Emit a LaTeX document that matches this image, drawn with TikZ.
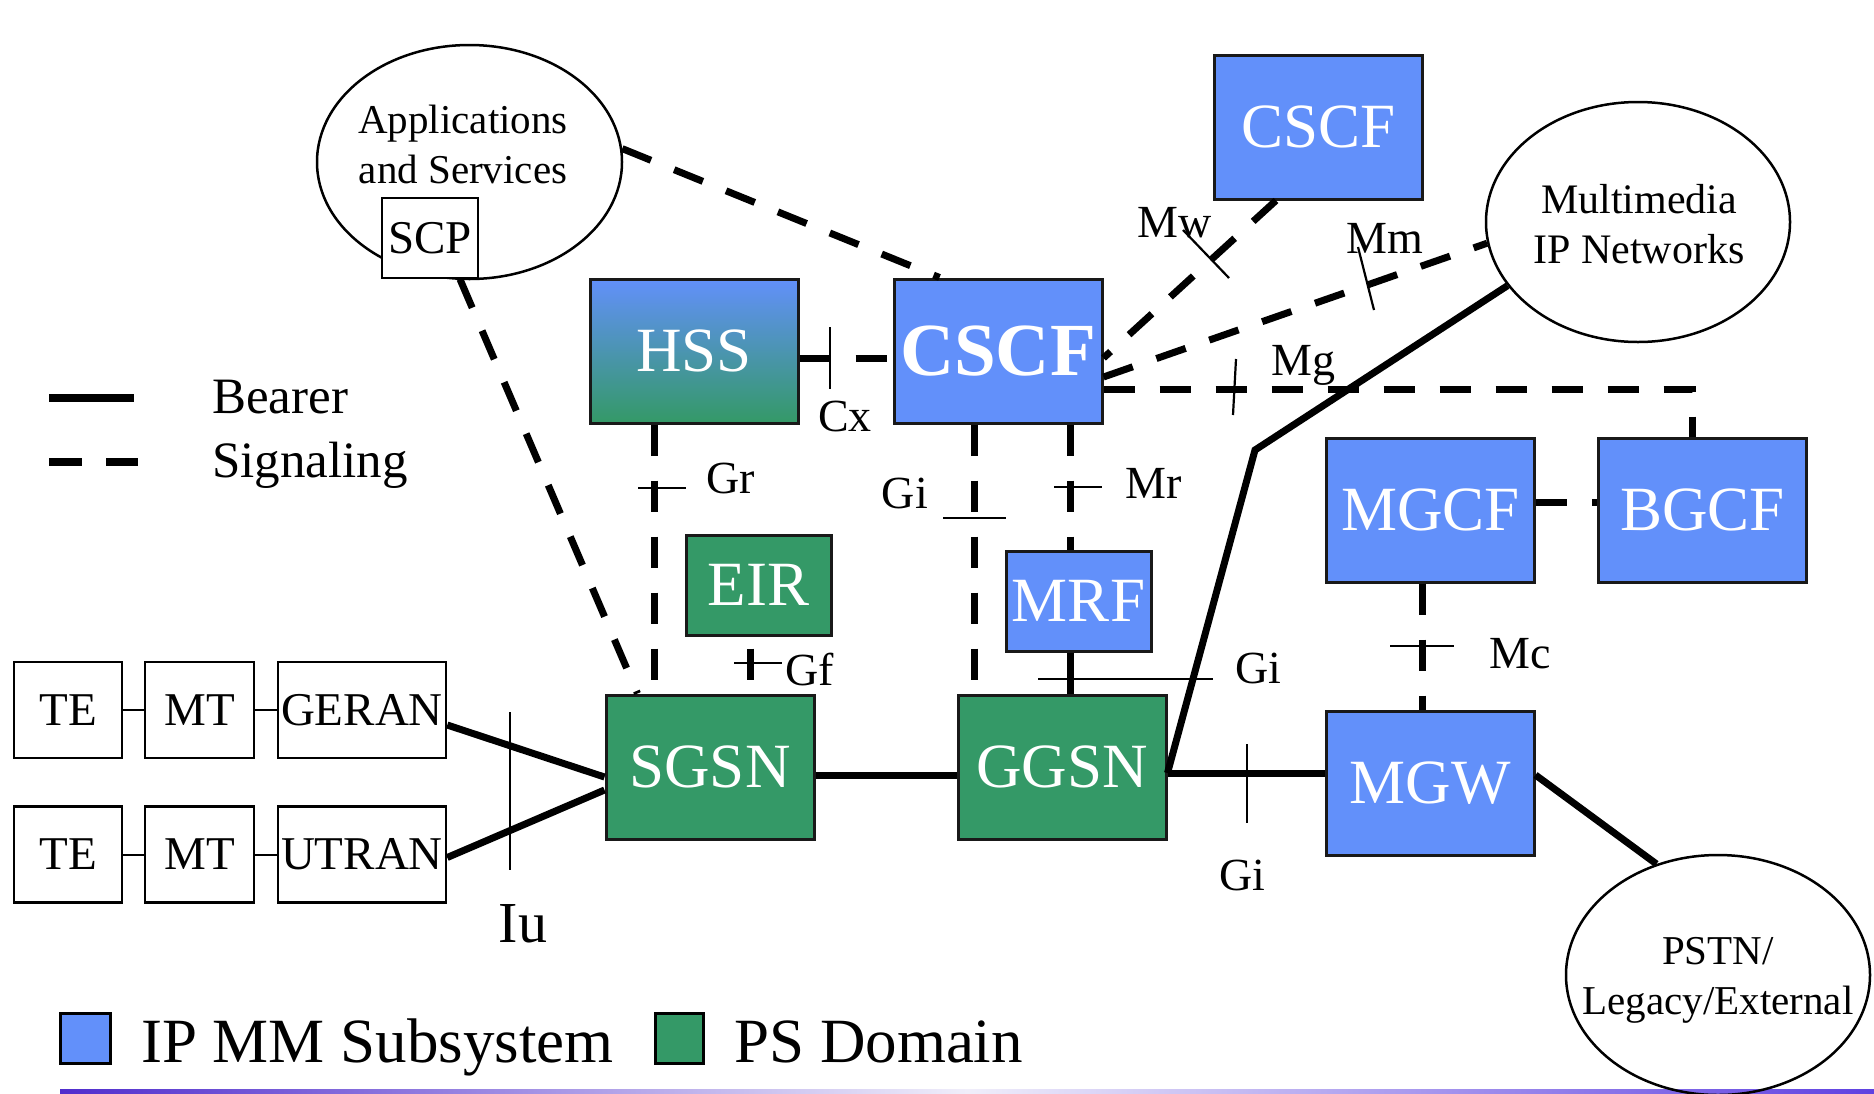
\documentclass[tikz,border=0pt]{standalone}
\usepackage{fontspec}
\setmainfont{Liberation Serif}
\usetikzlibrary{calc,shapes.geometric}
\definecolor{imsblue}{RGB}{98,144,250}
\definecolor{psgreen}{RGB}{52,153,103}
\definecolor{lineL}{RGB}{80,45,205}
\definecolor{lineR}{RGB}{95,65,225}
\definecolor{lineM}{RGB}{240,238,250}
\newcommand\myfs[1]{\fontsize{#1}{#1}\selectfont}
\begin{document}
\begin{tikzpicture}[x=1pt,y=-1pt,
  box/.style={draw=black!90, line width=3pt, inner sep=0pt, text=white, font=\myfs{63}},
  ims/.style={box, fill=imsblue},
  ps/.style={box, fill=psgreen},
  big/.style={minimum width=208pt, minimum height=144pt},
  small/.style={minimum width=145pt, minimum height=100pt},
  wbox/.style={draw, line width=2.5pt, fill=white, inner sep=0pt, font=\myfs{47}, minimum height=96pt},
  cloud/.style={draw, ellipse, line width=2.5pt, inner sep=0pt},
  sig/.style={line width=7pt, dash pattern=on 31pt off 25pt},
  bearer/.style={line width=7pt},
  tick/.style={line width=2.2pt},
  thinlink/.style={line width=2pt},
  lbl/.style={font=\myfs{46}, inner sep=0pt},
  cloudtext/.style={align=center, inner sep=0pt, font=\fontsize{41}{50}\selectfont},
]
\useasboundingbox (0,0) rectangle (1874,1093);

% bottom gradient rule
\shade[left color=lineL, right color=lineR, middle color=lineM] (60,1089) rectangle (1874,1093);

% clouds
\node[cloud, minimum width=305pt, minimum height=234pt] (apps) at (469.5,162) {};
\node[cloudtext] (appstext) at (463,144) {Applications\\and Services};
\node[cloud, minimum width=304pt, minimum height=240pt] (mmnet) at (1638,222) {};
\node[cloudtext, font=\fontsize{42}{50}\selectfont] (mmtext) at (1639,224) {Multimedia\\IP Networks};
\node[cloud, minimum width=304pt, minimum height=240pt] (pstn) at (1718,975) {};
\node[cloudtext] (pstntext) at (1718,980) {PSTN/\\Legacy/External};

% SCP
\node[draw, line width=2.5pt, fill=white, inner sep=0pt, minimum width=96pt, minimum height=80pt, font=\myfs{47}] (scp) at (430,238) {SCP};

% IMS / PS boxes
\node[box, big, shade, top color=imsblue, bottom color=psgreen] (hss) at (694,351) {HSS};
\node[ims, big, font=\bfseries\myfs{75}] (cscf) at (998,351) {CSCF};
\node[ims, big] (cscf2) at (1318.5,127) {CSCF};
\node[ps, small] (eir) at (758.5,585) {EIR};
\node[ims, small] (mrf) at (1078.5,601) {MRF};
\node[ims, big] (mgcf) at (1430.5,510) {MGCF};
\node[ims, big] (bgcf) at (1702.5,510) {BGCF};
\node[ps, big] (sgsn) at (710,767) {SGSN};
\node[ps, big] (ggsn) at (1062,767) {GGSN};
\node[ims, big] (mgw) at (1430,783) {MGW};

% terminals
\node[wbox, minimum width=108pt] (te1) at (68,710) {TE};
\node[wbox, minimum width=109pt] (mt1) at (199.5,710) {MT};
\node[wbox, minimum width=168pt] (geran) at (362,710) {GERAN};
\node[wbox, minimum width=108pt] (te2) at (68,854.5) {TE};
\node[wbox, minimum width=109pt] (mt2) at (199.5,854.5) {MT};
\node[wbox, minimum width=168pt] (utran) at (362,854.5) {UTRAN};
\draw[thinlink] (te1.east) -- (mt1.west);
\draw[thinlink] (mt1.east) -- (geran.west);
\draw[thinlink] (te2.east) -- (mt2.west);
\draw[thinlink] (mt2.east) -- (utran.west);

% signaling links
\draw[sig] (apps.5) -- ($(cscf.north west)+(47,0)$);
\draw[sig] ($(scp.south)+(30,0)$) -- ($(sgsn.north west)+(33,0)$);
\draw[sig] ($(hss.east)+(0,7)$) -- ($(cscf.west)+(0,7)$);
\draw[sig] ($(hss.south)+(-40,0)$) -- ($(sgsn.north)+(-56,0)$);
\draw[sig, dash phase=44pt] ($(eir.south)+(-8.5,0)$) -- ($(sgsn.north)+(40,0)$);
\draw[sig] ($(cscf.south)+(-24,0)$) -- ($(ggsn.north)+(-88,0)$);
\draw[sig] ($(cscf.south)+(72,0)$) -- ($(mrf.north)+(-8.5,0)$);
\draw[sig] ($(cscf2.south)+(-42.5,0)$) -- ($(cscf.east)+(0,7)$);
\draw[sig] ($(cscf.east)+(0,26)$) -- (mmnet.188);
\draw[sig] ($(cscf.east)+(0,38)$) -| ($(bgcf.north)+(-10.5,0)$);
\draw[sig] ($(mgcf.east)+(0,-8)$) -- ($(bgcf.west)+(0,-8)$);
\draw[sig] ($(mgcf.south)+(-8.5,0)$) -- ($(mgw.north)+(-8,0)$);

% bearer links
\draw[bearer] ($(mrf.south)+(-8.5,0)$) -- ($(ggsn.north)+(8,0)$);
\draw[bearer] ($(geran.east)+(0,15)$) -- ($(sgsn.west)+(0,10)$);
\draw[bearer] ($(utran.east)+(0,3)$) -- ($(sgsn.west)+(0,23)$);
\draw[bearer] ($(sgsn.east)+(0,8)$) -- ($(ggsn.west)+(0,8)$);
\draw[bearer] ($(ggsn.east)+(0,6)$) -- ($(mgw.west)+(0,-10)$);
\coordinate (bend) at (1255,450);
\draw[bearer, line join=miter] ($(ggsn.east)+(0,6)$) -- (bend) -- (mmnet.206);
\draw[bearer] ($(mgw.east)+(0,-8)$) -- (pstn.119);

% reference point ticks
\draw[tick] (830,327) -- (830,389);
\draw[tick] (638,488) -- (686,488);
\draw[tick] (943,518) -- (1006,518);
\draw[tick] (1054,487) -- (1102,487);
\draw[tick] (734,663) -- (782,663);
\draw[tick] (1038,679) -- (1213,679);
\draw[tick] (1247,744) -- (1247,823);
\draw[tick] (1390,646) -- (1454,646);
\draw[tick] (1183,230) -- (1229,278);
\draw[tick] (1358,247) -- (1374,310);
\draw[tick] (1236,359) -- (1233,415);
\draw[tick] (510,712) -- (510,870);

% labels
\node[lbl, anchor=base west] (lcx) at (818,431) {Cx};
\node[lbl, anchor=base west] (lgr) at (706,493) {Gr};
\node[lbl, anchor=base east] (lgi1) at (928,508) {Gi};
\node[lbl, anchor=base west] (lmr) at (1125,498) {Mr};
\node[lbl, anchor=base west] (lgf) at (785,685) {Gf};
\node[lbl, anchor=base west] (lgi2) at (1235,683) {Gi};
\node[lbl, anchor=base] (lgi3) at (1242,890) {Gi};
\node[lbl, anchor=base west] (lmc) at (1489,668) {Mc};
\node[lbl, anchor=base west] (lmw) at (1137,237) {Mw};
\node[lbl, anchor=base west] (lmm) at (1346,253) {Mm};
\node[lbl, anchor=base west] (lmg) at (1271,375) {Mg};
\node[lbl, anchor=base, font=\myfs{58}] (liu) at (523,942) {Iu};

% line legend
\coordinate (lb1) at (49,398);
\coordinate (lb2) at (134,398);
\draw[line width=8pt] (lb1) -- (lb2);
\coordinate (ls1) at (49,462);
\coordinate (ls2) at (138,462);
\draw[line width=8pt, dash pattern=on 33pt off 24pt] (ls1) -- (ls2);
\node[anchor=base west, inner sep=0pt, font=\myfs{51}] (lbear) at (212,413) {Bearer};
\node[anchor=base west, inner sep=0pt, font=\myfs{51}] (lsig) at (212,477) {Signaling};

% colour legend
\node[draw, line width=3pt, fill=imsblue, minimum width=50pt, minimum height=50pt, inner sep=0pt] (legims) at (85,1038) {};
\node[anchor=base west, inner sep=0pt, font=\myfs{63}] (legimst) at (141,1062) {IP MM Subsystem};
\node[draw, line width=3pt, fill=psgreen, minimum width=48pt, minimum height=50pt, inner sep=0pt] (legps) at (679,1038) {};
\node[anchor=base west, inner sep=0pt, font=\myfs{63}] (legpst) at (734,1062) {PS Domain};
\end{tikzpicture}
\end{document}
